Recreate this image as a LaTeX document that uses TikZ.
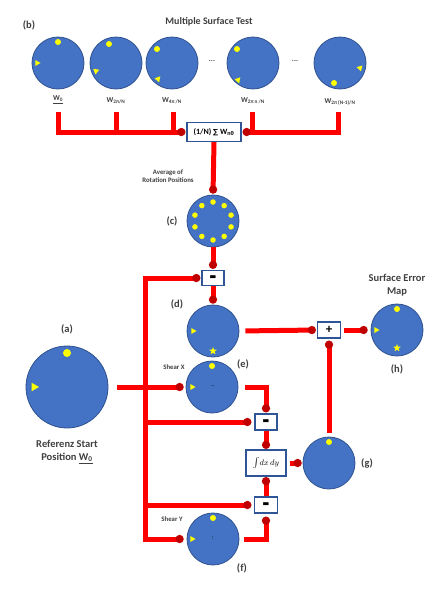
\documentclass[tikz,border=0pt]{standalone}
\usepackage{fontspec}
\setmainfont{Carlito}
\newfontfamily\djv{DejaVu Sans}
\usetikzlibrary{arrows.meta,calc,shapes.geometric}
\definecolor{discblue}{HTML}{4472C4}
\definecolor{discedge}{HTML}{2F528F}
\definecolor{busred}{HTML}{FF0000}
\definecolor{dotred}{HTML}{C00000}
\definecolor{boxedge}{HTML}{2F5597}
\definecolor{ylw}{HTML}{FFFF00}
\definecolor{txt}{HTML}{404040}
\tikzset{
 ReDot/.tip={Circle[length=8pt,width=8pt,color=dotred,fill=dotred]},
 disc/.style={circle,fill=discblue,draw=discedge,line width=0.8pt,minimum size=#1,inner sep=0pt},
 opbox/.style={rectangle,draw=boxedge,line width=1.3pt,fill=white,inner sep=0pt,text=black,font=\bfseries\fontsize{8}{9}\selectfont},
 bus/.style={draw=busred,line width=5pt,line join=miter},
 lab/.style={text=txt,font=\bfseries\fontsize{10.5}{13}\selectfont,align=center},
 smlab/.style={text=txt,font=\bfseries\fontsize{6.8}{8}\selectfont,align=center},
 wlab/.style={text=txt,font=\bfseries\fontsize{7.5}{8}\selectfont},
 ydot/.style={circle,fill=ylw,inner sep=0pt,minimum size=#1},
 ydot/.default=6pt,
 ystar/.style={star,star points=5,star point ratio=2.4,fill=ylw,inner sep=0pt,minimum size=8pt},
}
\newcommand\ytri[3]{\fill[ylw] ($(#1)!#3!(#2)$) -- ($(#1)!#3!120:(#2)$) -- ($(#1)!#3!-120:(#2)$) -- cycle;}
\newcommand\bigminus{\smash{\raisebox{-8pt}{\scalebox{1.4}[3]{–}}}}
\begin{document}
\begin{tikzpicture}[x=1pt,y=-1pt]
\useasboundingbox[fill=white] (0,0) rectangle (440,600);
% titles
\node[lab] (tb) at (29,25) {(b)};
\node[lab,font=\bfseries\fontsize{10}{12}\selectfont] (title) at (209,22) {Multiple Surface Test};
% top row
\node[disc=52pt] (b1) at (58,63) {};
\node[disc=52pt] (b2) at (116,63) {};
\node[disc=52pt] (b3) at (172,63) {};
\node[disc=52pt] (b4) at (253,63) {};
\node[disc=52pt] (b5) at (340,63) {};
\node[ydot] (b1d) at (58,42) {};
\node[ydot] (b2d) at (109,44) {};
\node[ydot] (b3d) at (157,49) {};
\node[ydot] (b4d) at (237,49) {};
\node[ydot] (b5d) at (334,83) {};
\ytri{37,63}{b1}{3.5pt}
\ytri{96,71}{b2}{3.5pt}
\ytri{158,79}{b3}{3.5pt}
\ytri{238,80}{b4}{3.5pt}
\ytri{360,68}{b5}{3.5pt}
\node[wlab] (dots1) at (212,61) {...};
\node[wlab] (dots2) at (295,61) {...};
\node[wlab] (lb1) at (58,100) {\underline{W\textsubscript{0}}};
\node[wlab] (lb2) at (116,101) {W\textsubscript{2π/N}};
\node[wlab] (lb3) at (172,101) {W\textsubscript{4π /N}};
\node[wlab] (lb4) at (253,101) {W\textsubscript{2π n /N}};
\node[wlab] (lb5) at (340,102) {W\textsubscript{2π (N-1)/N}};
\coordinate (t1) at (58,112);
\coordinate (t2) at (116,112);
\coordinate (t3) at (173,112);
\coordinate (t4) at (252,112);
\coordinate (t5) at (338,112);
% average box
\node[opbox,minimum width=54pt,minimum height=19pt] (avg) at (214,132) {(1/N) {\djv\fontsize{7}{8}\selectfont ∑} W\textsubscript{nθ}};
\node[smlab] (avgl) at (168,176) {Average of\\Rotation Positions};
% (c)
\node[disc=52pt] (c) at (213,221) {};
\foreach \ang in {90,54,18,-18,-54,-90,-126,-162,162,126}
  \node[ydot=5.5pt] at ($(c)+(\ang:19)$) {};
\node[lab] (cl) at (172,221) {(c)};
% minus 1
\node[opbox,minimum width=22pt,minimum height=15pt,font=\bfseries\fontsize{11}{11}\selectfont] (m1) at (213,278) {\bigminus};
% (d)
\node[disc=52pt] (d) at (213,331) {};
\ytri{193,331}{d}{3.5pt}
\node[ystar] (dstar) at (213,351) {};
\node[lab] (dl) at (177,304) {(d)};
% plus
\node[opbox,minimum width=23pt,minimum height=16pt,font=\bfseries\fontsize{13}{13}\selectfont] (plus) at (329,330) {+};
% (h)
\node[disc=52pt] (h) at (397,330) {};
\node[ydot] (hd) at (397,309) {};
\ytri{376,330}{h}{3.5pt}
\node[ystar] (hstar) at (397,348) {};
\node[lab] (hl) at (397,369) {(h)};
\node[lab] (hname) at (397,285) {Surface Error\\Map};
% (a)
\node[disc=82pt] (a) at (67,387) {};
\node[ydot=8pt] (ad) at (67,353) {};
\ytri{34,387}{a}{5pt}
\node[lab] (al) at (67,329) {(a)};
\node[lab] (aname) at (67,452) {Referenz Start\\Position \underline{W\textsubscript{0}}};
% (e)
\node[disc=52pt] (e) at (212,387) {};
\node[ydot] (ed) at (212,366) {};
\ytri{192,387}{e}{3.5pt}
\node[font=\fontsize{6}{6}\selectfont] (ec) at (213,386) {..};
\node[smlab] (shx) at (174,367) {Shear X};
\node[lab] (el) at (243,364) {(e)};
% minus 2
\node[opbox,minimum width=22pt,minimum height=16pt,font=\bfseries\fontsize{11}{11}\selectfont] (m2) at (266,422) {\bigminus};
% integral
\node[opbox,minimum width=40pt,minimum height=26pt,font=\fontsize{8}{9}\selectfont] (int) at (266,463) {$\int\! dx\, dy$};
% (g)
\node[disc=52pt] (g) at (329,463) {};
\node[ydot] (gd) at (329,442) {};
\node[lab] (gl) at (367,463) {(g)};
% minus 3
\node[opbox,minimum width=23pt,minimum height=16pt,font=\bfseries\fontsize{11}{11}\selectfont] (m3) at (266,505) {\bigminus};
% (f)
\node[disc=52pt] (f) at (213,539) {};
\node[ydot] (fd) at (213,518) {};
\ytri{192,539}{f}{3.5pt}
\node[font=\fontsize{6}{6}\selectfont] (fc) at (213,538) {:};
\node[smlab] (shy) at (172,519) {Shear Y};
\node[lab] (fl) at (242,568) {(f)};
\coordinate (vx) at (145,0);
% connectors
\draw[bus,-ReDot,shorten >=1pt] (t1) |- (avg.west);
\draw[bus] (t2) -- (t2 |- avg.west);
\draw[bus] (t3) -- (t3 |- avg.west);
\draw[bus,-ReDot,shorten >=1pt] (t5) |- (avg.east);
\draw[bus] (t4) -- (t4 |- avg.east);
\draw[bus,-ReDot,shorten >=1pt] (avg.south) -- (c.north);
\draw[bus,-ReDot,shorten >=1pt] (c.south) -- (m1.north);
\draw[bus,-ReDot,shorten >=1pt] (m1.south) -- (d.north);
\draw[bus,ReDot-ReDot,shorten <=1pt,shorten >=3pt] (m1.west) -| (vx |- f.west) -- (f.west);
\draw[bus,-ReDot,shorten >=3pt] (vx |- m2.west) -- (m2.west);
\draw[bus,-ReDot,shorten >=2.5pt] (vx |- m3.west) -- (m3.west);
\draw[bus,-ReDot,shorten <=9pt,shorten >=2pt] (a.east) -- (e.west);
\draw[bus,-ReDot,shorten <=6pt,shorten >=1pt] (d.east) -- (plus.west);
\draw[bus,-ReDot,shorten <=3pt,shorten >=3pt] (plus.east) -- (h.west);
\draw[bus,-ReDot,shorten <=4pt,shorten >=2pt] (g.north) -- (plus.south);
\draw[bus,-ReDot,shorten <=7pt,shorten >=1pt] (e.east) -| (m2.north);
\draw[bus,-ReDot,shorten >=0.5pt] (m2.south) -- (int.north);
\draw[bus,-ReDot,shorten <=3pt,shorten >=1pt] (int.east) -- (g.west);
\draw[bus,-ReDot,shorten >=0.5pt] (m3.north) -- (int.south);
\draw[bus,-ReDot,shorten <=5pt,shorten >=3pt] (f.east) -| (m3.south);
\end{tikzpicture}
\end{document}
